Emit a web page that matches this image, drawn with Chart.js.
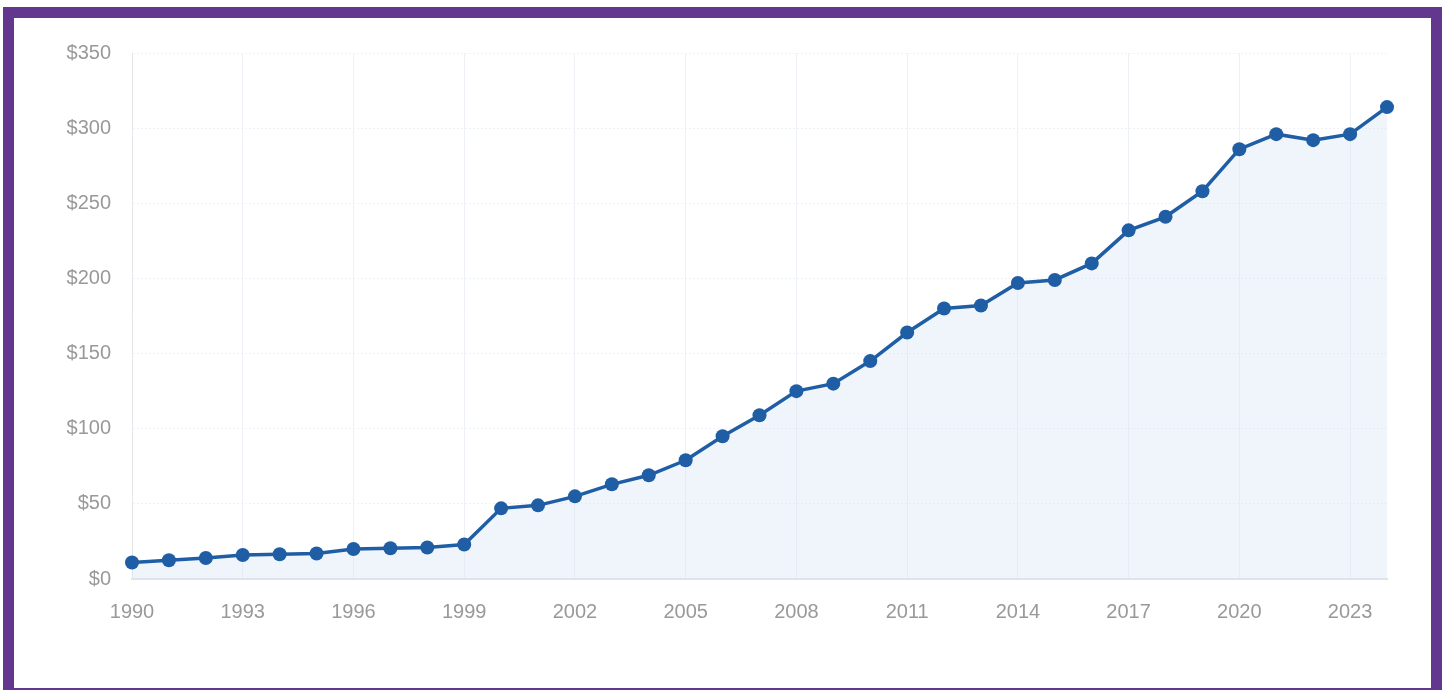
<!DOCTYPE html>
<html>
<head>
<meta charset="utf-8">
<script src="https://cdn.jsdelivr.net/npm/chart.js@4.4.1/dist/chart.umd.min.js"></script>
<style>
  html, body { margin: 0; padding: 0; background: #fff; }
  #wrap { position: relative; width: 1447px; height: 690px; overflow: hidden; }
  #frame {
    position: absolute; left: 3px; top: 7px; width: 1417px; height: 670px;
    border: 11px solid #64378f; pointer-events: none;
  }
  canvas { position: absolute; left: 0; top: 0; }
</style>
</head>
<body>
<div id="wrap">
  <canvas id="c" width="1447" height="690"></canvas>
  <div id="frame"></div>
</div>
<script>
const years = []
for (let y = 1990; y <= 2024; y++) years.push(String(y))

const values = [
  11, 12.5, 14, 16, 16.5, 17, 20, 20.5, 21, 23,
  47, 49, 55, 63, 69, 79, 95, 109, 125, 130,
  145, 164, 180, 182, 197, 199, 210, 232, 241, 258,
  286, 296, 292, 296, 314
]

const yTicks = [0, 50, 100, 150, 200, 250, 300, 350]

const labelFont = {family: 'Liberation Sans', size: 20}
const labelColor = '#999999'

new Chart(document.getElementById('c').getContext('2d'), {
  type: 'line',
  data: {
    labels: years,
    datasets: [{
      data: values,
      borderColor: '#1f5ea5',
      borderWidth: 3.5,
      backgroundColor: 'rgba(212,226,244,0.35)',
      fill: 'origin',
      pointRadius: 7,
      pointBackgroundColor: '#1f5ea5',
      pointBorderColor: '#1f5ea5',
      pointBorderWidth: 0,
      tension: 0
    }]
  },
  options: {
    responsive: false,
    animation: false,
    layout: {padding: {left: 0, right: 60, top: 53, bottom: 0}},
    plugins: {legend: {display: false}, tooltip: {enabled: false}},
    scales: {
      x: {
        offset: false,
        grid: {
          drawTicks: false,
          color: ctx => ctx.index % 3 === 0 && ctx.index > 0 ? '#eef1f5' : 'rgba(0,0,0,0)',
          lineWidth: 1
        },
        border: {display: true, color: '#dfe4eb', width: 2},
        ticks: {
          autoSkip: false,
          maxRotation: 0,
          padding: 21,
          color: labelColor,
          font: labelFont,
          callback: (v, i) => i % 3 === 0 ? years[i] : ''
        },
        afterFit: s => { s.height = 111 }
      },
      y: {
        min: 0,
        max: 350,
        afterBuildTicks: s => { s.ticks = yTicks.map(v => ({value: v})) },
        grid: {
          drawTicks: false,
          color: ctx => ctx.index === 0 ? 'rgba(0,0,0,0)' : '#eff2f6',
          lineWidth: 1
        },
        border: {display: true, color: '#e4e6ea', dash: [2, 2], width: 1},
        ticks: {
          padding: 21,
          color: labelColor,
          font: labelFont,
          callback: v => '$' + v
        },
        afterFit: s => { s.width = 132 }
      }
    }
  }
})
</script>
</body>
</html>
